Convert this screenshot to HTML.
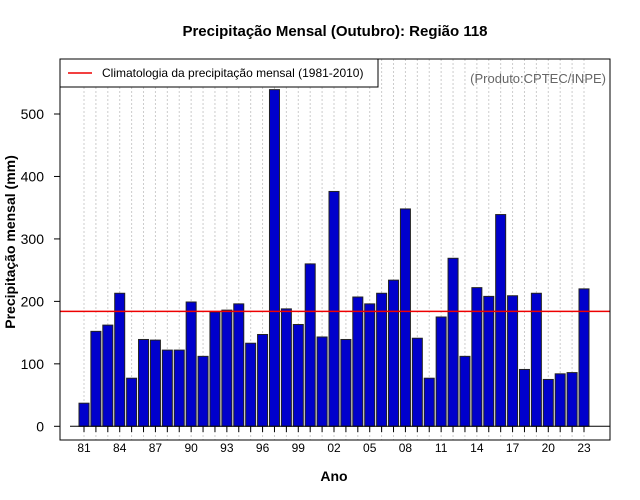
<!DOCTYPE html>
<html><head><meta charset="utf-8"><style>
body{margin:0;background:#fff;}
svg{display:block;font-family:"Liberation Sans",sans-serif;}
</style></head><body>
<svg id="chart" width="640" height="500">
<text x="335" y="36" text-anchor="middle" font-size="15" font-weight="bold">Precipitação Mensal (Outubro): Região 118</text>
<text x="334" y="481" text-anchor="middle" font-size="14" font-weight="bold">Ano</text>
<text transform="translate(15,242) rotate(-90)" text-anchor="middle" font-size="14" font-weight="bold">Precipitação mensal (mm)</text>
<g id="grid"></g><g id="bars"></g><g id="axes"></g>
<rect x="60" y="59" width="550" height="381" fill="none" stroke="#000"/>
<g>
<rect x="60" y="59" width="318" height="28" fill="#fff" stroke="#000"/>
<line x1="68" y1="73" x2="92" y2="73" stroke="#e00" stroke-width="1.5"/>
<text x="102" y="77" font-size="12">Climatologia da precipitação mensal (1981-2010)</text>
</g>
<text x="606" y="83" text-anchor="end" font-size="13" fill="#666">(Produto:CPTEC/INPE)</text>
</svg>
<script>
const years=[81,82,83,84,85,86,87,88,89,90,91,92,93,94,95,96,97,98,99,0,1,2,3,4,5,6,7,8,9,10,11,12,13,14,15,16,17,18,19,20,21,22,23];
const values=[37,152,162,213,77,139,138,122,122,199,112,183,186,196,133,147,539,188,163,260,143,376,139,207,196,213,234,348,141,77,175,269,112,222,208,339,209,91,213,75,84,86,220];
const climatology=[184];
const yTicks=[0,100,200,300,400,500];
const NS="http://www.w3.org/2000/svg";
const x=i=>84+i*(500/42);
const y=v=>426.3-v*0.6246;
function mk(t,a,p){const e=document.createElementNS(NS,t);for(const k in a)e.setAttribute(k,a[k]);p.appendChild(e);return e;}
const g=document.getElementById('grid'),b=document.getElementById('bars'),ax=document.getElementById('axes');
years.forEach((yr,i)=>{
 const l=mk('line',{x1:x(i),x2:x(i),y1:59,y2:440,stroke:'#ccc','stroke-dasharray':'2,2'},g);
 
 
 const r=mk('rect',{x:x(i)-5,y:y(values[i]),width:10,height:y(0)-y(values[i]),fill:'#0000cc',stroke:'#222','stroke-width':1},b);
 
 
 const t=mk('line',{x1:x(i),x2:x(i),y1:426,y2:432,stroke:'#000'},ax);
 
 
 if(i%3==0){const tx=mk('text',{x:x(i),y:452,'text-anchor':'middle','font-size':12},ax);tx.textContent=String(yr).padStart(2,'0');
 
 }
});
const base=mk('line',{x1:x(0)-14,x2:610,y1:y(0),y2:y(0),stroke:'#000'},ax);


yTicks.forEach(v=>{
 const t=mk('line',{x1:54,x2:60,y1:y(v),y2:y(v),stroke:'#000'},ax);
 
 
 const tx=mk('text',{x:44,y:y(v)+5,'text-anchor':'end','font-size':14},ax);tx.textContent=v;
 
 
});
const cl=mk('line',{x1:60,x2:610,y1:y(climatology[0]),y2:y(climatology[0]),stroke:'#e00','stroke-width':1.5},ax);


</script>
</body></html>
